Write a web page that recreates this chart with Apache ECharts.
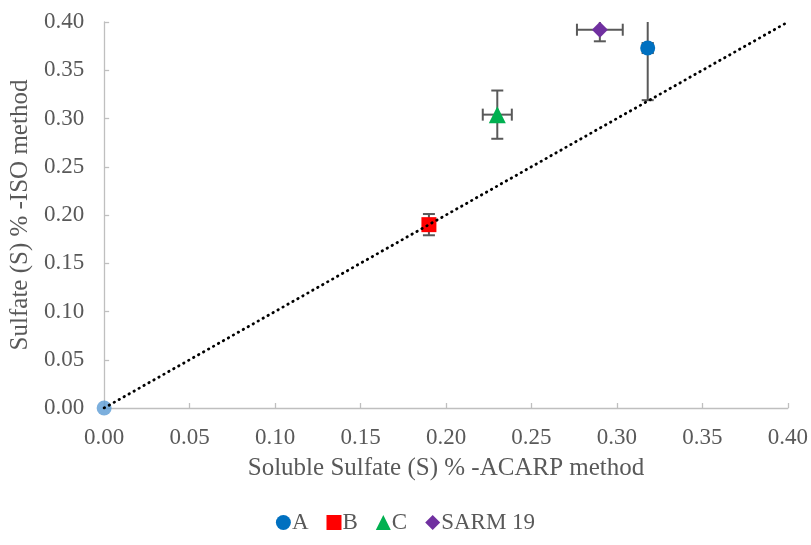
<!DOCTYPE html>
<html><head><meta charset="utf-8">
<script src="https://cdn.jsdelivr.net/npm/echarts@6/dist/echarts.min.js"></script>
<style>html,body{margin:0;padding:0;background:#fff}#c{width:811px;height:545px}</style>
</head><body><div id="c"></div>
<script>
// Data: [x, y, xErr, yErr]
const seriesNames = ['A', 'B', 'C', 'SARM 19'];
const ptA = [0.318, 0.373, 0.003, 0.054];
const ptB = [0.190, 0.190, 0.003, 0.011];
const ptC = [0.230, 0.304, 0.0085, 0.025];
const ptSARM = [0.290, 0.392, 0.0134, 0.012];
const origin = [0, 0];
const lineX = [0, 0.40];
const lineY = [0, 0.40];
const xTicks = [0, 0.40, 0.05];
const yTicks = [0, 0.40, 0.05];

const points = [ptA, ptB, ptC, ptSARM];
const colors = ['#0070C0', '#FF0000', '#00B050', '#7030A0'];
const symbols = ['circle', 'rect', 'triangle', 'diamond'];
const sizes = [15, 15, 17, 16];
const errColor = '#595959';

function errRender(params, api) {
  const x = api.value(0), y = api.value(1), dx = api.value(2), dy = api.value(3);
  const c = api.coord([x, y]);
  const l = api.coord([x - dx, y]), r = api.coord([x + dx, y]);
  const t = api.coord([x, y + dy]), b = api.coord([x, y - dy]);
  const cap = 6;
  const st = {stroke: errColor, lineWidth: 2};
  const ch = [
    {type: 'line', shape: {x1: l[0], y1: c[1], x2: r[0], y2: c[1]}, style: st},
    {type: 'line', shape: {x1: l[0], y1: c[1] - cap, x2: l[0], y2: c[1] + cap}, style: st},
    {type: 'line', shape: {x1: r[0], y1: c[1] - cap, x2: r[0], y2: c[1] + cap}, style: st},
    {type: 'line', shape: {x1: c[0], y1: t[1], x2: c[0], y2: b[1]}, style: st},
    {type: 'line', shape: {x1: c[0] - cap, y1: t[1], x2: c[0] + cap, y2: t[1]}, style: st},
    {type: 'line', shape: {x1: c[0] - cap, y1: b[1], x2: c[0] + cap, y2: b[1]}, style: st}
  ];
  return {type: 'group', children: ch};
}

const font = '"Liberation Serif", "Times New Roman", serif';
const series = [];
points.forEach((p, i) => {
  series.push({
    name: seriesNames[i] + '_err', type: 'custom', renderItem: errRender,
    data: [p], clip: true, z: 1, silent: true
  });
});
points.forEach((p, i) => {
  series.push({
    name: seriesNames[i], type: 'scatter', data: [[p[0], p[1]]],
    symbol: symbols[i], symbolSize: sizes[i],
    itemStyle: {color: colors[i], opacity: 1}, z: 2
  });
});
series.push({
  name: 'origin', type: 'scatter', data: [origin], symbol: 'circle', symbolSize: 15,
  itemStyle: {color: '#5B9BD5'}, z: 2
});
series.push({
  name: 'line', type: 'line', data: [[lineX[0], lineY[0]], [lineX[1], lineY[1]]],
  showSymbol: false, symbol: 'none',
  lineStyle: {color: '#000', width: 2.8, type: [0.5, 5.2], cap: 'round'}, z: 3, silent: true
});

const chart = echarts.init(document.getElementById('c'));
chart.setOption({
  animation: false,
  grid: {left: 102, right: 21, top: 22, bottom: 137, containLabel: false},
  legend: {
    data: seriesNames.map((n, i) => ({name: n, icon: symbols[i]})),
    bottom: 6, left: 'center', itemWidth: 15, itemHeight: 15, itemGap: 18,
    textStyle: {fontFamily: font, fontSize: 23, color: '#595959', padding: [0, 0, 0, -4]}
  },
  xAxis: {
    type: 'value', min: xTicks[0], max: xTicks[1], interval: xTicks[2],
    name: 'Soluble Sulfate (S) % -ACARP method', nameLocation: 'middle', nameGap: 48,
    nameTextStyle: {fontFamily: font, fontSize: 25, color: '#595959'},
    axisLine: {show: true, lineStyle: {color: '#BFBFBF', width: 1.3}},
    axisTick: {show: true, inside: true, length: 5, lineStyle: {color: '#BFBFBF', width: 1.3}},
    axisLabel: {fontFamily: font, fontSize: 23, color: '#595959', margin: 18, formatter: v => v.toFixed(2)},
    splitLine: {show: false}
  },
  yAxis: {
    type: 'value', min: yTicks[0], max: yTicks[1], interval: yTicks[2],
    name: 'Sulfate (S) % -ISO method', nameLocation: 'middle', nameGap: 64,
    nameTextStyle: {fontFamily: font, fontSize: 25, color: '#595959'},
    axisLine: {show: true, lineStyle: {color: '#BFBFBF', width: 1.3}},
    axisTick: {show: true, inside: true, length: 5, lineStyle: {color: '#BFBFBF', width: 1.3}},
    axisLabel: {fontFamily: font, fontSize: 23, color: '#595959', margin: 20, formatter: v => v.toFixed(2)},
    splitLine: {show: false}
  },
  series: series
});
</script></body></html>
